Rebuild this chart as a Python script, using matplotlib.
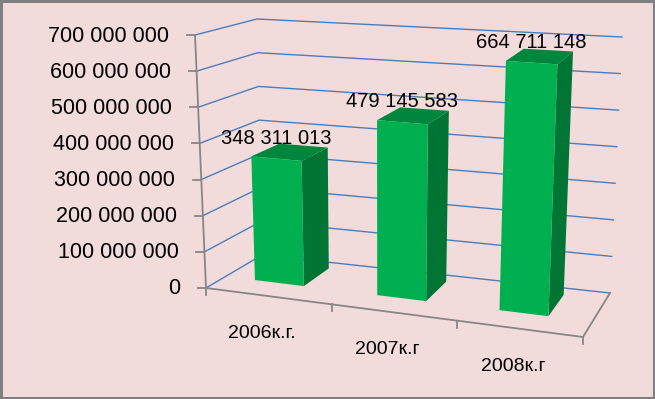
import matplotlib.pyplot as plt
from matplotlib.patches import Polygon, Rectangle

years = ["2006к.г.", "2007к.г", "2008к.г"]
values = [348311013, 479145583, 664711148]
ticks = [0, 100000000, 200000000, 300000000, 400000000, 500000000, 600000000, 700000000]
vmax = 700000000

# screen corners of the 3d box (pixels): (x, value, depth) -> (px, py)
corners = {
    (0, 0, 0): (206, 288), (1, 0, 0): (583, 337),
    (0, 1, 0): (195, 35), (1, 1, 0): (595, 63),
    (0, 0, 1): (262, 255), (1, 0, 1): (610, 293),
    (0, 1, 1): (257, 19), (1, 1, 1): (622, 37),
}

def proj(x, v, z):
    u = x / len(years)
    w = v / vmax
    px = py = 0
    for (a, b, c), (cx, cy) in corners.items():
        k = (u if a else 1 - u) * (w if b else 1 - w) * (z if c else 1 - z)
        px += k * cx
        py += k * cy
    return px, py

fig = plt.figure(figsize=(6.55, 3.99), dpi=100)
fig.patch.set_facecolor("#F2DCDB")
ax = fig.add_axes([0, 0, 1, 1])
ax.set_xlim(0, 655)
ax.set_ylim(399, 0)
ax.axis("off")

plt.rcParams['font.family'] = ['Liberation Sans', 'DejaVu Sans']

grid_c = "#4A7EBB"
axis_c = "#868686"
n = len(years)

# gridlines on side wall and back wall
for t in ticks:
    p0 = proj(0, t, 0)
    p1 = proj(0, t, 1)
    p2 = proj(n, t, 1)
    ax.plot([p0[0], p1[0], p2[0]], [p0[1], p1[1], p2[1]], color=grid_c, lw=1.0, zorder=1)
    ax.plot([p0[0] - 8, p0[0]], [p0[1], p0[1]], color=axis_c, lw=1.3, zorder=2)
    ax.text(p0[0] - 26, p0[1] + 1, f"{t:,.0f}".replace(",", " "), ha="right", va="center",
            fontsize=15.5, color="black")

# axis lines
a = proj(0, vmax, 0); b = proj(0, 0, 0); c = proj(n, 0, 0); d = proj(n, 0, 1)
ax.plot([a[0], b[0], c[0], d[0]], [a[1], b[1], c[1], d[1]], color=axis_c, lw=1.3, zorder=2)
for i in range(n + 1):
    p = proj(i, 0, 0)
    ax.plot([p[0], p[0]], [p[1], p[1] + 7], color=axis_c, lw=1.3, zorder=2)

# bars
z0, z1 = 0.35, 0.85
hw = 0.2
for i, val in enumerate(values):
    cx = i + 0.5 - 0.06
    x0, x1 = cx - hw, cx + hw
    front = [proj(x0, 0, z0), proj(x1, 0, z0), proj(x1, val, z0), proj(x0, val, z0)]
    side = [proj(x1, 0, z0), proj(x1, 0, z1), proj(x1, val, z1), proj(x1, val, z0)]
    top = [proj(x0, val, z0), proj(x1, val, z0), proj(x1, val, z1), proj(x0, val, z1)]
    ax.add_patch(Polygon(side, closed=True, fc="#007534", ec="none", zorder=3))
    ax.add_patch(Polygon(top, closed=True, fc="#00873D", ec="none", zorder=3))
    ax.add_patch(Polygon(front, closed=True, fc="#00B050", ec="none", zorder=4))
    lp = proj(cx, val, z0)
    ax.annotate(f"{val:,.0f}".replace(",", " "), lp, xytext=(0, 8), textcoords="offset points",
                ha="center", va="bottom", fontsize=14.5, zorder=5)
    cp = proj(i + 0.5, 0, 0)
    ax.annotate(years[i], cp, xytext=(-5, -27), textcoords="offset points",
                ha="center", va="center", fontsize=14)

ax.add_patch(Rectangle((1, 1), 653, 397, fill=False, ec="#808080", lw=2.2, zorder=6))

fig.savefig("out.png", dpi=100, facecolor=fig.get_facecolor())
